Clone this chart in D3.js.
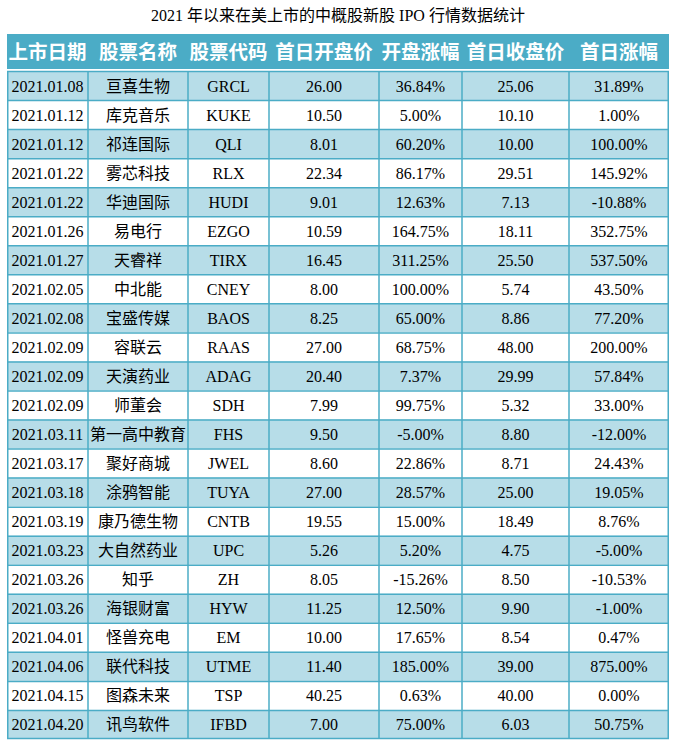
<!DOCTYPE html>
<html><head><meta charset="utf-8">
<script src="https://cdn.jsdelivr.net/npm/d3@7"></script>
<style>body{margin:0;background:#fff}</style>
</head><body>
<script>
const title = "2021 年以来在美上市的中概股新股 IPO 行情数据统计";
const headers = ["上市日期","股票名称","股票代码","首日开盘价","开盘涨幅","首日收盘价","首日涨幅"];
const dates = ["2021.01.08","2021.01.12","2021.01.12","2021.01.22","2021.01.22","2021.01.26","2021.01.27","2021.02.05","2021.02.08","2021.02.09","2021.02.09","2021.02.09","2021.03.11","2021.03.17","2021.03.18","2021.03.19","2021.03.23","2021.03.26","2021.03.26","2021.04.01","2021.04.06","2021.04.15","2021.04.20"];
const names = ["亘喜生物","库克音乐","祁连国际","雾芯科技","华迪国际","易电行","天睿祥","中北能","宝盛传媒","容联云","天演药业","师董会","第一高中教育","聚好商城","涂鸦智能","康乃德生物","大自然药业","知乎","海银财富","怪兽充电","联代科技","图森未来","讯鸟软件"];
const codes = ["GRCL","KUKE","QLI","RLX","HUDI","EZGO","TIRX","CNEY","BAOS","RAAS","ADAG","SDH","FHS","JWEL","TUYA","CNTB","UPC","ZH","HYW","EM","UTME","TSP","IFBD"];
const openPrice = [26.00,10.50,8.01,22.34,9.01,10.59,16.45,8.00,8.25,27.00,20.40,7.99,9.50,8.60,27.00,19.55,5.26,8.05,11.25,10.00,11.40,40.25,7.00];
const openChange = [36.84,5.00,60.20,86.17,12.63,164.75,311.25,100.00,65.00,68.75,7.37,99.75,-5.00,22.86,28.57,15.00,5.20,-15.26,12.50,17.65,185.00,0.63,75.00];
const closePrice = [25.06,10.10,10.00,29.51,7.13,18.11,25.50,5.74,8.86,48.00,29.99,5.32,8.80,8.71,25.00,18.49,4.75,8.50,9.90,8.54,39.00,40.00,6.03];
const closeChange = [31.89,1.00,100.00,145.92,-10.88,352.75,537.50,43.50,77.20,200.00,57.84,33.00,-12.00,24.43,19.05,8.76,-5.00,-10.53,-1.00,0.47,875.00,0.00,50.75];

const W = 677, H = 746;
const colW = [81,100,81,110,83,107,100];
const x0 = 7, headTop = 34, headBot = 69, bodyTop = 71, bodyBot = 739;
const teal = "#4BACC6", light = "#B7DDE8";
const serif = "'Liberation Serif','Times New Roman','Noto Sans CJK SC',serif";

const colEdges = [x0];
colW.forEach(w => colEdges.push(colEdges[colEdges.length-1] + w));

const rows = dates.map((d,i) => [d, names[i], codes[i], openPrice[i].toFixed(2), openChange[i].toFixed(2)+"%", closePrice[i].toFixed(2), closeChange[i].toFixed(2)+"%"]);

const y = d3.scaleBand().domain(d3.range(rows.length)).range([bodyTop, bodyBot]);
const xc = d3.scaleOrdinal().domain(d3.range(7)).range(colEdges.slice(0,7));

const svg = d3.select("body").append("svg").attr("width", W).attr("height", H);

svg.append("text").attr("x", 338).attr("y", 21).attr("text-anchor","middle")
  .attr("font-family", serif).attr("font-size", 16).attr("fill","#000").text(title);

// header
svg.append("rect").attr("x", x0).attr("y", headTop).attr("width", colEdges[7]-x0).attr("height", headBot-headTop).attr("fill", teal);
svg.selectAll("text.h").data(headers).join("text").attr("class","h")
  .attr("x",(d,i)=>xc(i)+colW[i]/2).attr("y",(headTop+headBot)/2+7)
  .attr("text-anchor","middle").attr("font-family","'Noto Sans CJK SC',sans-serif")
  .attr("font-weight","bold").attr("font-size",19.5).attr("fill","#fff").text(d=>d);

// body rows
const g = svg.append("g");
g.selectAll("rect.r").data(rows).join("rect").attr("class","r")
  .attr("x", x0).attr("y",(d,i)=>y(i)).attr("width", colEdges[7]-x0).attr("height", y.bandwidth())
  .attr("fill",(d,i)=> i%2===0 ? light : "#fff");

rows.forEach((r,i)=>{
  g.selectAll(null).data(r).join("text")
    .attr("x",(d,j)=>xc(j)+colW[j]/2).attr("y", y(i)+y.bandwidth()/2+6)
    .attr("text-anchor","middle").attr("font-family", serif)
    .attr("font-size",16).attr("fill","#000").text(d=>d);
});

// grid lines
g.selectAll("line.hl").data(d3.range(rows.length+1)).join("line")
  .attr("x1",x0).attr("x2",colEdges[7])
  .attr("y1",i=> i<rows.length ? y(i)+0.5 : bodyBot-0.5).attr("y2",i=> i<rows.length ? y(i)+0.5 : bodyBot-0.5)
  .attr("stroke",teal).attr("stroke-width",1.5);
g.selectAll("line.vl").data(colEdges).join("line")
  .attr("x1",(d,i)=> i===0? d+0.75 : i===7 ? d-0.75 : d).attr("x2",(d,i)=> i===0? d+0.75 : i===7 ? d-0.75 : d)
  .attr("y1",bodyTop).attr("y2",bodyBot)
  .attr("stroke",teal).attr("stroke-width",1.5);
</script>
</body></html>
